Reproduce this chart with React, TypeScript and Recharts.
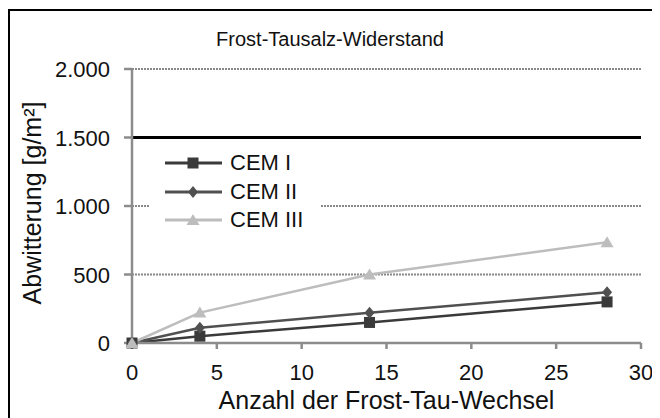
import React from 'react';
import { LineChart, Line, XAxis, YAxis, CartesianGrid, ReferenceLine, Legend } from 'recharts';

const cycles = [0, 4, 14, 28];
const cem1 = [0, 50, 150, 300];
const cem2 = [0, 112, 220, 370];
const cem3 = [0, 222, 500, 735];
const xTicks = [0, 5, 10, 15, 20, 25, 30];
const yTicks = [0, 500, 1000, 1500, 2000];
const limitValue = 1500;
const seriesNames = ['CEM I', 'CEM II', 'CEM III'];

const data = cycles.map((c, i) => ({ x: c, cem1: cem1[i], cem2: cem2[i], cem3: cem3[i] }));

const C1 = '#3a3a3a';
const C2 = '#505050';
const C3 = '#bdbdbd';
const AXIS = '#8c8c8c';
const FONT = '"Liberation Sans", Arial, sans-serif';

const fmt = (v: number) => v.toLocaleString('de-DE');

const XTick = (p: any) => (
  <text x={p.x} y={p.y} dy={16} textAnchor="middle" fontSize={22} fill="#111" fontFamily={FONT}>
    {p.payload.value}
  </text>
);
const YTick = (p: any) => (
  <text x={p.x} y={p.y} dy={8} textAnchor="end" fontSize={22} fill="#111" fontFamily={FONT}>
    {fmt(p.payload.value)}
  </text>
);

const SquareDot = (p: any) => (
  <rect key={`sq-${p.index}`} x={p.cx - 5.5} y={p.cy - 5.5} width={11} height={11} fill={C1} />
);
const DiamondDot = (p: any) => (
  <polygon key={`di-${p.index}`} points={`${p.cx},${p.cy - 6} ${p.cx + 5},${p.cy} ${p.cx},${p.cy + 6} ${p.cx - 5},${p.cy}`} fill={C2} />
);
const TriDot = (p: any) => (
  <polygon key={`tr-${p.index}`} points={`${p.cx},${p.cy - 6} ${p.cx + 6.5},${p.cy + 5} ${p.cx - 6.5},${p.cy + 5}`} fill={C3} />
);

const icons = [
  (x: number, y: number) => <rect x={x - 5.5} y={y - 5.5} width={11} height={11} fill={C1} />,
  (x: number, y: number) => <polygon points={`${x},${y - 6} ${x + 5},${y} ${x},${y + 6} ${x - 5},${y}`} fill={C2} />,
  (x: number, y: number) => <polygon points={`${x},${y - 6} ${x + 6.5},${y + 5} ${x - 6.5},${y + 5}`} fill={C3} />,
];
const colors = [C1, C2, C3];

const LegendBox = () => (
  <div style={{ background: '#fff', width: 170, paddingTop: 2, paddingBottom: 4, fontFamily: FONT }}>
    {seriesNames.map((n, i) => (
      <div key={n} style={{ display: 'flex', alignItems: 'center', height: 28.5 }}>
        <svg width={57} height={14} style={{ marginLeft: 15, display: 'block' }}>
          <line x1={0} y1={7} x2={57} y2={7} stroke={colors[i]} strokeWidth={3} />
          {icons[i](28, 7)}
        </svg>
        <span style={{ marginLeft: 8, fontSize: 22, color: '#111', lineHeight: '28px' }}>{n}</span>
      </div>
    ))}
  </div>
);

export default function App() {
  return (
    <div style={{ position: 'relative', width: 652, height: 410, overflow: 'hidden', fontFamily: FONT }}>
      <div style={{ position: 'absolute', left: 0, top: 1, width: 800, height: 600, borderLeft: '2px solid #000', borderTop: '2px solid #000' }} />
      <LineChart width={652} height={410} data={data} margin={{ top: 61, right: 19, left: 0, bottom: 45 }}>
        <CartesianGrid horizontal vertical={false} stroke="#888" strokeWidth={2} strokeDasharray="2 1" />
        <XAxis
          dataKey="x"
          type="number"
          domain={[0, 30]}
          ticks={xTicks}
          height={30}
          stroke={AXIS}
          strokeWidth={2.5}
          tickSize={6}
          tickMargin={15}
          tick={XTick}
          tickLine={{ stroke: AXIS, strokeWidth: 2.5 }}
        />
        <YAxis
          type="number"
          domain={[0, 2000]}
          ticks={yTicks}
          width={124}
          stroke={AXIS}
          strokeWidth={2.5}
          tickSize={8}
          tickMargin={14}
          tick={YTick}
          tickLine={{ stroke: AXIS, strokeWidth: 2.5 }}
        />
        <ReferenceLine y={limitValue} stroke="#000" strokeWidth={3} />
        <Legend
          layout="vertical"
          align="center"
          verticalAlign="middle"
          wrapperStyle={{ position: 'absolute', left: 142, top: 139, width: 170 }}
          content={() => <LegendBox />}
        />
        <Line dataKey="cem1" name={seriesNames[0]} stroke={C1} strokeWidth={2.5} dot={SquareDot} isAnimationActive={false} />
        <Line dataKey="cem2" name={seriesNames[1]} stroke={C2} strokeWidth={2.5} dot={DiamondDot} isAnimationActive={false} />
        <Line dataKey="cem3" name={seriesNames[2]} stroke={C3} strokeWidth={2.5} dot={TriDot} isAnimationActive={false} />
      </LineChart>
      <div style={{ position: 'absolute', left: 0, top: 20, width: 644, textAlign: 'center', fontSize: 20, color: '#111' }}>
        Frost-Tausalz-Widerstand
      </div>
      <div style={{ position: 'absolute', left: 124, top: 377, width: 509, textAlign: 'center', fontSize: 25, color: '#111', lineHeight: '30px' }}>
        Anzahl der Frost-Tau-Wechsel
      </div>
      <div style={{ position: 'absolute', left: 24 - 150, top: 195 - 15, width: 300, height: 30, lineHeight: '30px', textAlign: 'center', fontSize: 25, color: '#111', transform: 'rotate(-90deg)' }}>
        Abwitterung [g/m²]
      </div>
    </div>
  );
}
